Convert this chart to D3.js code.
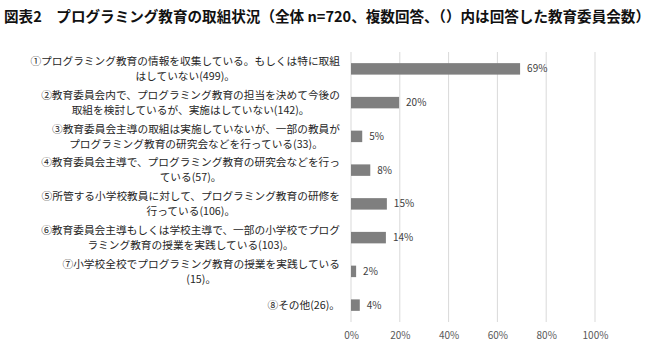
<!DOCTYPE html>
<html><head><meta charset="utf-8">
<script src="https://cdn.jsdelivr.net/npm/d3@7"></script>
<style>
html,body{margin:0;padding:0;background:#fff;}
svg{display:block;}
</style></head>
<body>
<svg id="chart" width="658" height="351"></svg>
<script>
const title = "図表2　プログラミング教育の取組状況（全体 n=720、複数回答、（）内は回答した教育委員会数）";
const categories = [
  ["①プログラミング教育の情報を収集している。もしくは特に取組", "はしていない(499)。"],
  ["②教育委員会内で、プログラミング教育の担当を決めて今後の", "取組を検討しているが、実施はしていない(142)。"],
  ["③教育委員会主導の取組は実施していないが、一部の教員が", "プログラミング教育の研究会などを行っている(33)。"],
  ["④教育委員会主導で、プログラミング教育の研究会などを行っ", "ている(57)。"],
  ["⑤所管する小学校教員に対して、プログラミング教育の研修を", "行っている(106)。"],
  ["⑥教育委員会主導もしくは学校主導で、一部の小学校でプログ", "ラミング教育の授業を実践している(103)。"],
  ["⑦小学校全校でプログラミング教育の授業を実践している", "(15)。"],
  ["⑧その他(26)。"]
];
const values = [69.3, 19.7, 4.6, 7.9, 14.7, 14.3, 2.1, 3.6];
const valueLabels = ["69%", "20%", "5%", "8%", "15%", "14%", "2%", "4%"];
const xTicks = [0, 20, 40, 60, 80, 100];
const xTickLabels = ["0%", "20%", "40%", "60%", "80%", "100%"];

const svg = d3.select("#chart");
const font = "'Noto Sans CJK JP', 'Noto Sans', sans-serif";

// title
svg.append("text")
  .attr("x", 4).attr("y", 22)
  .attr("font-family", font)
  .attr("font-weight", "bold")
  .attr("font-size", 14.5)
  .attr("fill", "#111")
  .attr("textLength", 646)
  .attr("lengthAdjust", "spacingAndGlyphs")
  .text(title);

const x = d3.scaleLinear().domain([0, 100]).range([351, 595]);
const y = d3.scaleBand().domain(d3.range(categories.length)).range([52, 322]).paddingInner(0.66).paddingOuter(0.33);

// gridlines
svg.append("g").selectAll("line").data(xTicks).join("line")
  .attr("x1", d => x(d)).attr("x2", d => x(d))
  .attr("y1", 52).attr("y2", 322)
  .attr("stroke", "#d9d9d9").attr("stroke-width", 1);

// tick labels
const xAxis = d3.axisBottom(x).tickValues(xTicks).tickFormat((d, i) => xTickLabels[i]).tickSize(0).tickPadding(0);
const gx = svg.append("g").attr("transform", "translate(0,332)").call(xAxis);
gx.select(".domain").remove();
gx.selectAll("text").attr("font-family", font).attr("font-size", 10).attr("fill", "#595959").attr("dy", "0.71em");

// bars
svg.append("g").selectAll("rect").data(values).join("rect")
  .attr("x", x(0))
  .attr("y", (d, i) => y(i))
  .attr("width", d => x(d) - x(0))
  .attr("height", y.bandwidth())
  .attr("fill", "#7f7f7f");

// value labels
svg.append("g").selectAll("text").data(values).join("text")
  .attr("x", d => x(d) + 7)
  .attr("y", (d, i) => y(i) + y.bandwidth() / 2)
  .attr("dy", "0.35em")
  .attr("font-family", font).attr("font-size", 10).attr("fill", "#404040")
  .text((d, i) => valueLabels[i]);

// category labels
const labelRight = 340;
const lineH = 15;
const cg = svg.append("g");
categories.forEach((lines, i) => {
  const cy = y(i) + y.bandwidth() / 2;
  const g = cg.append("g");
  const texts = lines.map((ln, j) => g.append("text")
    .attr("font-family", font).attr("font-size", 10.7).attr("fill", "#262626")
    .attr("y", cy + (j - (lines.length - 1) / 2) * lineH)
    .attr("dy", "0.35em")
    .text(ln));
  const widths = texts.map(t => t.node().getComputedTextLength());
  const bw = d3.max(widths);
  const center = labelRight - bw / 2;
  texts.forEach(t => t.attr("x", center).attr("text-anchor", "middle"));
});
</script>
</body></html>
